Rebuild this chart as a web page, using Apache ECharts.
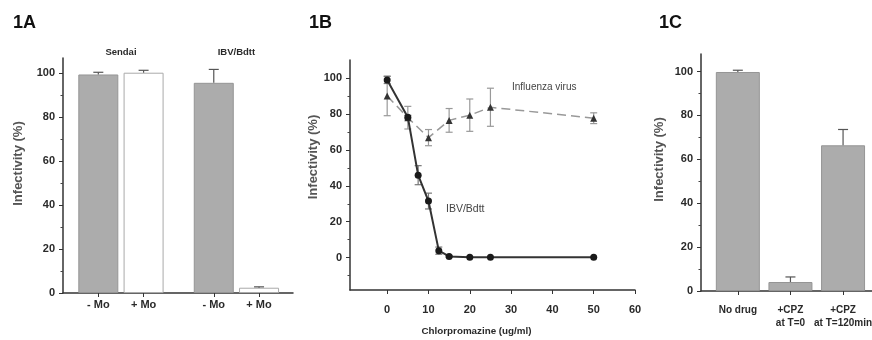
<!DOCTYPE html>
<html>
<head>
<meta charset="utf-8">
<script src="https://cdn.jsdelivr.net/npm/echarts@6/dist/echarts.min.js"></script>
<style>
  html, body { margin: 0; padding: 0; background: #fff; }
  #chart { width: 872px; height: 340px; }
</style>
</head>
<body>
<div id="chart"></div>
<script>
// 1A: infectivity with / without Mo
const groupsA = ['Sendai', 'IBV/Bdtt']
const condA = ['- Mo', '+ Mo']
const valA = [99.5, 100.3, 95.7, 2.4]
const errA = [1.0, 1.1, 6.1, 0.4]

// 1B: chlorpromazine dose response
const doseIbv = [0, 5, 7.5, 10, 12.5, 15, 20, 25, 50]
const ibv = [98.9, 78.2, 45.9, 31.5, 3.9, 0.7, 0.2, 0.2, 0.2]
const ibvErr = [2, 1, 5.3, 4.4, 2, 0.5, 0, 0, 0]
const doseFlu = [0, 5, 10, 15, 20, 25, 50]
const flu = [90, 77.9, 66.8, 76.4, 79.3, 83.7, 77.6]
const fluErr = [11, 6.3, 4.5, 6.6, 9, 10.6, 3]
const doseTicks = [0, 10, 20, 30, 40, 50, 60]

// 1C: time of addition
const catC = ['No drug', '+CPZ\nat T=0', '+CPZ\nat T=120min']
const valC = [99.8, 4.1, 66.4]
const errC = [0.8, 2.3, 7.2]

const pctTicks = [0, 20, 40, 60, 80, 100]
const pctMinor = [10, 30, 50, 70, 90]
const pctMinorB = [-10, 10, 30, 50, 70, 90]

const FONT = 'Liberation Sans, Arial, sans-serif'
const INK = '#2a2a2a'
const BAR_GREY = '#acacac'
const GROUP_STEP = 2.55

// bar slot positions on the value axis of panel A
const posA = []
groupsA.forEach((g, gi) => condA.forEach((c, ci) => posA.push(1 + gi * GROUP_STEP + ci)))
const groupPosA = groupsA.map((g, gi) => 1.5 + gi * GROUP_STEP)
const posC = catC.map((c, i) => i + 1)

function errorBars(bothSides, color, capHalf) {
  return function (params, api) {
    const x = api.value(0)
    const y = api.value(1)
    const e = api.value(2)
    if (!e) return null
    const top = api.coord([x, y + e])
    const bot = api.coord([x, bothSides ? y - e : y])
    const style = { stroke: color, lineWidth: 1.2 }
    const children = [
      { type: 'line', shape: { x1: top[0], y1: top[1], x2: bot[0], y2: bot[1] }, style },
      { type: 'line', shape: { x1: top[0] - capHalf, y1: top[1], x2: top[0] + capHalf, y2: top[1] }, style },
    ]
    if (bothSides) {
      children.push({ type: 'line', shape: { x1: bot[0] - capHalf, y1: bot[1], x2: bot[0] + capHalf, y2: bot[1] }, style })
    }
    return { type: 'group', children }
  }
}

const axisLine = { show: true, onZero: false, lineStyle: { color: '#333', width: 1.5 } }
const tickLabel = { color: INK, fontFamily: FONT, fontWeight: 'bold', fontSize: 11 }

function pctAxis(gridIndex, min, max, namePad, nameGap) {
  return {
    type: 'value', gridIndex, min, max, position: 'left',
    name: 'Infectivity (%)', nameLocation: 'middle', nameGap,
    nameTextStyle: { color: '#555', fontFamily: FONT, fontWeight: 'bold', fontSize: 13, padding: [0, 0, 0, namePad] },
    axisLine,
    axisTick: { show: true, length: 4, customValues: pctTicks, lineStyle: { color: '#333' } },
    axisLabel: { ...tickLabel, margin: 8, customValues: pctTicks },
    splitLine: { show: false },
  }
}

// second, label-less axis on the same side that only carries the minor ticks
function minorAxis(gridIndex, min, max, values) {
  return {
    type: 'value', gridIndex, min, max, position: 'left', offset: 0,
    axisLine: { show: false, onZero: false },
    axisTick: { show: true, length: 2.5, customValues: values, lineStyle: { color: '#444' } },
    axisLabel: { show: false },
    splitLine: { show: false },
  }
}

const chart = echarts.init(document.getElementById('chart'))

chart.setOption({
  animation: false,
  backgroundColor: '#fff',
  textStyle: { fontFamily: FONT },
  graphic: [
    { type: 'text', left: 13, top: 14, style: { text: '1A', font: 'bold 18px ' + FONT, fill: '#111' } },
    { type: 'text', left: 309, top: 14, style: { text: '1B', font: 'bold 18px ' + FONT, fill: '#111' } },
    { type: 'text', left: 659, top: 14, style: { text: '1C', font: 'bold 18px ' + FONT, fill: '#111' } },
    { type: 'text', left: 512, top: 82, style: { text: 'Influenza virus', font: '10px ' + FONT, fill: '#444' } },
    { type: 'text', left: 446, top: 204, style: { text: 'IBV/Bdtt', font: '10.5px ' + FONT, fill: '#444' } },
  ],
  grid: [
    { left: 63, top: 58, width: 230, height: 235, outerBoundsMode: 'none' },
    { left: 350, top: 60, width: 285, height: 230, outerBoundsMode: 'none' },
    { left: 701, top: 54, width: 171, height: 237, outerBoundsMode: 'none' },
  ],
  xAxis: [
    {
      type: 'value', gridIndex: 0, min: 0.22, max: 5.3,
      axisLine,
      axisTick: { show: true, length: 4, customValues: posA, lineStyle: { color: '#333' } },
      axisLabel: {
        ...tickLabel, margin: 6, customValues: posA,
        formatter: (v) => condA[posA.findIndex((p) => Math.abs(p - v) < 1e-6) % condA.length],
      },
      splitLine: { show: false },
    },
    {
      type: 'value', gridIndex: 0, position: 'top', min: 0.22, max: 5.3,
      axisLine: { show: false, onZero: false }, axisTick: { show: false },
      axisLabel: {
        ...tickLabel, fontSize: 9.5, margin: 1, customValues: groupPosA,
        formatter: (v) => groupsA[groupPosA.findIndex((p) => Math.abs(p - v) < 1e-6)],
      },
      splitLine: { show: false },
    },
    {
      type: 'value', gridIndex: 1, min: -9, max: 60,
      name: 'Chlorpromazine (ug/ml)', nameLocation: 'middle', nameGap: 36,
      nameTextStyle: { color: INK, fontFamily: FONT, fontWeight: 'bold', fontSize: 9.8, padding: [0, 32, 0, 0] },
      axisLine,
      axisTick: { show: true, length: 4, customValues: doseTicks, lineStyle: { color: '#333' } },
      axisLabel: { ...tickLabel, margin: 14, customValues: doseTicks },
      splitLine: { show: false },
    },
    {
      type: 'value', gridIndex: 2, min: 0.3, max: 3.55,
      axisLine,
      axisTick: { show: true, length: 4, customValues: posC, lineStyle: { color: '#333' } },
      axisLabel: {
        ...tickLabel, fontSize: 10, lineHeight: 13, margin: 13, customValues: posC,
        formatter: (v) => catC[Math.round(v) - 1],
      },
      splitLine: { show: false },
    },
  ],
  yAxis: [
    pctAxis(0, 0, 107, 24, 38),
    pctAxis(1, -18, 110, 36, 29),
    pctAxis(2, 0, 108, 26, 35),
    minorAxis(0, 0, 107, pctMinor),
    minorAxis(1, -18, 110, pctMinorB),
    minorAxis(2, 0, 108, pctMinor),
  ],
  series: [
    {
      type: 'bar', xAxisIndex: 0, yAxisIndex: 0, barWidth: 40,
      data: valA.map((v, i) => ({
        value: [posA[i], v],
        itemStyle: i % 2 === 0
          ? { color: BAR_GREY, borderColor: '#959595', borderWidth: 1 }
          : { color: '#fff', borderColor: '#aaa', borderWidth: 1 },
      })),
    },
    {
      type: 'custom', xAxisIndex: 0, yAxisIndex: 0, clip: false, z: 3,
      renderItem: errorBars(false, '#555', 5),
      data: valA.map((v, i) => [posA[i], v, errA[i]]),
    },
    {
      name: 'Influenza virus', type: 'line', xAxisIndex: 2, yAxisIndex: 1,
      symbol: 'triangle', symbolSize: 7,
      lineStyle: { color: '#999', width: 1.5, type: [9, 5] },
      itemStyle: { color: '#333' },
      data: doseFlu.map((d, i) => [d, flu[i]]),
      z: 3,
    },
    {
      type: 'custom', xAxisIndex: 2, yAxisIndex: 1, clip: false, z: 2,
      renderItem: errorBars(true, '#999', 3.5),
      data: doseFlu.map((d, i) => [d, flu[i], fluErr[i]]),
    },
    {
      name: 'IBV/Bdtt', type: 'line', xAxisIndex: 2, yAxisIndex: 1,
      symbol: 'circle', symbolSize: 7,
      lineStyle: { color: '#333', width: 2 },
      itemStyle: { color: '#1a1a1a' },
      data: doseIbv.map((d, i) => [d, ibv[i]]),
      z: 4,
    },
    {
      type: 'custom', xAxisIndex: 2, yAxisIndex: 1, clip: false, z: 2,
      renderItem: errorBars(true, '#777', 3.5),
      data: doseIbv.map((d, i) => [d, ibv[i], ibvErr[i]]),
    },
    {
      type: 'bar', xAxisIndex: 3, yAxisIndex: 2, barWidth: 44,
      itemStyle: { color: BAR_GREY, borderColor: '#959595', borderWidth: 1 },
      data: valC.map((v, i) => [posC[i], v]),
    },
    {
      type: 'custom', xAxisIndex: 3, yAxisIndex: 2, clip: false, z: 3,
      renderItem: errorBars(false, '#555', 5),
      data: valC.map((v, i) => [posC[i], v, errC[i]]),
    },
  ],
})
</script>
</body>
</html>
